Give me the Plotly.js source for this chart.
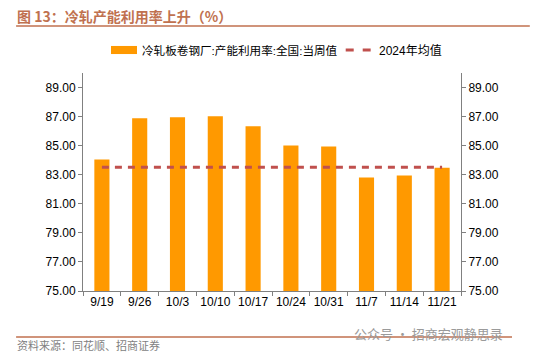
<!DOCTYPE html>
<html>
<head>
<meta charset="utf-8">
<script src="https://cdn.plot.ly/plotly-3.0.1.min.js"></script>
<style>
html,body{margin:0;padding:0;background:#fff;}
#chart{width:546px;height:357px;}
</style>
</head>
<body>
<div id="chart"></div>
<script>
const categories = ["9/19","9/26","10/3","10/10","10/17","10/24","10/31","11/7","11/14","11/21"];
const utilization = [84.05, 86.88, 86.95, 87.02, 86.33, 85.02, 84.95, 82.81, 82.95, 83.48];
const avg2024 = [83.52, 83.52, 83.52, 83.52, 83.52, 83.52, 83.52, 83.52, 83.52, 83.52];
const yTicks = [75, 77, 79, 81, 83, 85, 87, 89];
const yTickText = yTicks.map(v => v.toFixed(2));
const seriesNames = ["冷轧板卷钢厂:产能利用率:全国:当周值", "2024年均值"];

const fontStack = "Liberation Sans, Arial, Noto Sans CJK SC, sans-serif";
const barColor = "#FF9900";
const avgColor = "#C0504D";
const brown = "#C0714F";

const traces = [
  {
    type: "bar",
    name: seriesNames[0],
    x: categories,
    y: utilization,
    marker: {color: barColor},
    width: 0.4,
    showlegend: false,
    yaxis: "y"
  },
  {
    type: "scatter",
    mode: "lines",
    name: seriesNames[1],
    x: categories,
    y: avg2024,
    line: {color: avgColor, width: 3, dash: "7px,6px"},
    showlegend: false,
    yaxis: "y"
  },
  {
    type: "scatter",
    mode: "lines",
    x: categories,
    y: avg2024,
    line: {width: 0},
    opacity: 0,
    showlegend: false,
    hoverinfo: "skip",
    yaxis: "y2"
  }
];

const axisCommon = {
  range: [75, 90],
  tickvals: yTicks,
  ticktext: yTickText,
  showgrid: false,
  zeroline: false,
  showline: true,
  linecolor: "#808080",
  linewidth: 1,
  ticks: "outside",
  ticklen: 4,
  tickcolor: "#808080",
  tickfont: {family: fontStack, size: 12, color: "#000"},
  fixedrange: true
};

const layout = {
  width: 546,
  height: 357,
  margin: {l: 83, r: 85, t: 73, b: 66},
  paper_bgcolor: "#fff",
  plot_bgcolor: "#fff",
  showlegend: false,
  xaxis: {
    type: "category",
    showgrid: false,
    zeroline: false,
    showline: true,
    linecolor: "#808080",
    ticks: "outside",
    tickson: "boundaries",
    ticklen: 4,
    tickcolor: "#808080",
    tickangle: 0,
    tickfont: {family: fontStack, size: 12, color: "#000"},
    fixedrange: true
  },
  yaxis: Object.assign({}, axisCommon, {side: "left"}),
  yaxis2: Object.assign({}, axisCommon, {side: "right", overlaying: "y"}),
  shapes: [
    {type: "line", xref: "paper", yref: "paper", x0: -0.177, x1: 1.182, y0: 1.216, y1: 1.216,
     line: {color: brown, width: 1.5}},
    {type: "line", xref: "paper", yref: "paper", x0: -0.177, x1: 1.135, y0: -0.211, y1: -0.211,
     line: {color: brown, width: 1.5}},
    // legend keys
    {type: "rect", xref: "paper", yref: "paper", x0: 0.0741, x1: 0.1429, y0: 1.087, y1: 1.124,
     fillcolor: barColor, line: {width: 0}},
    {type: "line", xref: "paper", yref: "paper", x0: 0.695, x1: 0.761, y0: 1.1055, y1: 1.1055,
     line: {color: avgColor, width: 3, dash: "8px,9px"}}
  ],
  annotations: [
    {text: "<b>图 13：冷轧产能利用率上升（%）</b>", xref: "paper", yref: "paper",
     x: -0.18, y: 1.261, xanchor: "left", yanchor: "middle", showarrow: false,
     font: {family: "Noto Sans CJK SC, sans-serif", size: 14, color: brown}},
    {text: seriesNames[0], xref: "paper", yref: "paper",
     x: 0.151, y: 1.1055, xanchor: "left", yanchor: "middle", showarrow: false,
     font: {family: fontStack, size: 11.6, color: "#000"}},
    {text: seriesNames[1], xref: "paper", yref: "paper",
     x: 0.777, y: 1.1055, xanchor: "left", yanchor: "middle", showarrow: false,
     font: {family: fontStack, size: 12, color: "#000"}},
    {text: "资料来源：同花顺、招商证券", xref: "paper", yref: "paper",
     x: -0.18, y: -0.248, xanchor: "left", yanchor: "middle", showarrow: false,
     font: {family: "Noto Sans CJK SC, sans-serif", size: 11, color: "#7F7F7F"}},
    {text: "公众号 · 招商宏观静思录", xref: "paper", yref: "paper",
     x: 1.116, y: -0.193, xanchor: "right", yanchor: "middle", showarrow: false,
     font: {family: "Noto Sans CJK SC, sans-serif", size: 13, color: "#9A9A9A"}}
  ]
};

Plotly.newPlot("chart", traces, layout, {displayModeBar: false, staticPlot: true});
</script>
</body>
</html>
